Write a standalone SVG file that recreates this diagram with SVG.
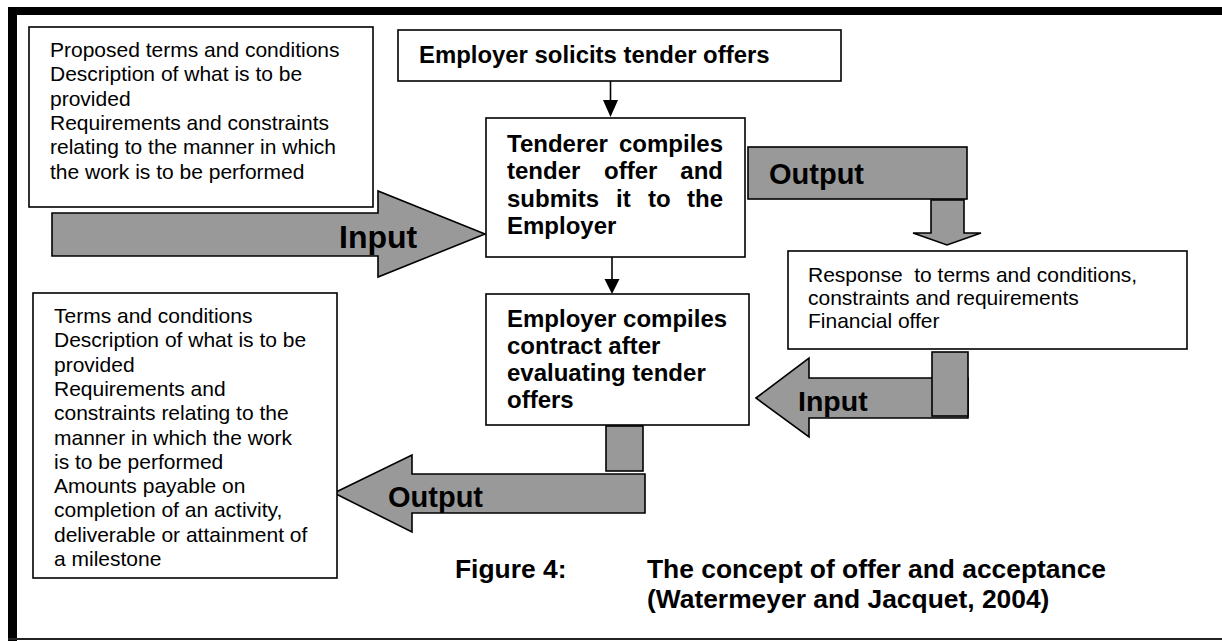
<svg xmlns="http://www.w3.org/2000/svg" width="1222" height="641" viewBox="0 0 1222 641">
  <style>
    .box { fill: #ffffff; stroke: #000000; stroke-width: 1.6; }
    .block { fill: #999999; stroke: #000000; stroke-width: 1.6; stroke-linejoin: miter; }
    .body { font-family: "Liberation Sans", Arial, sans-serif; font-size: 21px; fill: #000000; }
    .bold { font-family: "Liberation Sans", Arial, sans-serif; font-size: 24px; font-weight: bold; fill: #000000; }
    .tag { font-family: "Liberation Sans", Arial, sans-serif; font-size: 29px; font-weight: bold; fill: #000000; }
    .cap { font-family: "Liberation Sans", Arial, sans-serif; font-size: 26.4px; font-weight: bold; fill: #000000; }
    .link { stroke: #000000; stroke-width: 1.6; fill: none; }
  </style>

  <rect x="0" y="0" width="1222" height="641" fill="#ffffff"/>

  <!-- page frame -->
  <g id="frame">
    <rect x="8" y="7" width="1214" height="8" fill="#000000"/>
    <rect x="8" y="7" width="9" height="634" fill="#000000"/>
    <rect x="8" y="638" width="1214" height="2" fill="#222222"/>
  </g>

  <!-- block arrows and links -->
  <g id="connectors">
    <line class="link" x1="610.5" y1="81" x2="610.5" y2="100"/>
    <polygon points="603,100 618,100 610.5,117" fill="#000000"/>
    <line class="link" x1="612" y1="257" x2="612" y2="279"/>
    <polygon points="604.5,279 619.5,279 612,294" fill="#000000"/>

    <g id="input-left">
      <polygon class="block" points="52,213 378,213 378,191 485,234 378,277 378,256 52,256"/>
      <text class="tag" x="339" y="248" style="font-size:32px">Input</text>
    </g>

    <g id="output-top">
      <rect class="block" x="748" y="147" width="219" height="52"/>
      <text class="tag" x="769" y="184">Output</text>
      <polygon class="block" points="931,200 964,200 964,233 981,233 947,245 913,233 931,233"/>
    </g>

    <g id="input-right">
      <polygon class="block" points="756,398 809,358 809,378 968,378 968,418 809,418 809,437"/>
      <rect class="block" x="932" y="352" width="36" height="64"/>
      <text class="tag" x="798" y="411" style="font-size:28.5px">Input</text>
    </g>

    <g id="output-bottom">
      <rect class="block" x="606" y="426" width="37" height="45"/>
      <polygon class="block" points="334,493 412,455 412,474 645,474 645,513 412,513 412,532"/>
      <text class="tag" x="388" y="507">Output</text>
    </g>
  </g>

  <g id="terms-proposed">
    <rect class="box" x="29" y="27" width="344" height="180"/>
    <text class="body">
      <tspan x="50" y="57">Proposed terms and conditions</tspan>
      <tspan x="50" y="81.3">Description of what is to be</tspan>
      <tspan x="50" y="105.6">provided</tspan>
      <tspan x="50" y="129.9">Requirements and constraints</tspan>
      <tspan x="50" y="154.2">relating to the manner in which</tspan>
      <tspan x="50" y="178.5">the work is to be performed</tspan>
    </text>
  </g>

  <g id="solicit">
    <rect class="box" x="398" y="30" width="443" height="51"/>
    <text class="bold" x="419" y="63" style="font-size:23.9px">Employer solicits tender offers</text>
  </g>

  <g id="tenderer">
    <rect class="box" x="486" y="118" width="259" height="139"/>
    <g class="bold">
      <text x="507" y="152">Tenderer</text>
      <text x="723" y="152" text-anchor="end">compiles</text>
      <text x="507" y="179">tender</text>
      <text x="604" y="179">offer</text>
      <text x="723" y="179" text-anchor="end">and</text>
      <text x="507" y="207">submits</text>
      <text x="616" y="207">it</text>
      <text x="648" y="207">to</text>
      <text x="723" y="207" text-anchor="end">the</text>
      <text x="507" y="234">Employer</text>
    </g>
  </g>

  <g id="response">
    <rect class="box" x="788" y="251" width="399" height="98"/>
    <text class="body" xml:space="preserve"><tspan x="808" y="282">Response  to terms and conditions,</tspan><tspan x="808" y="305">constraints and requirements</tspan><tspan x="808" y="328">Financial offer</tspan></text>
  </g>

  <g id="contract">
    <rect class="box" x="486" y="294" width="263" height="131"/>
    <text class="bold">
      <tspan x="507" y="327">Employer compiles</tspan>
      <tspan x="507" y="354">contract after</tspan>
      <tspan x="507" y="381">evaluating tender</tspan>
      <tspan x="507" y="408">offers</tspan>
    </text>
  </g>

  <g id="terms-final">
    <rect class="box" x="33" y="293" width="304" height="285"/>
    <text class="body">
      <tspan x="54" y="323">Terms and conditions</tspan>
      <tspan x="54" y="347.3">Description of what is to be</tspan>
      <tspan x="54" y="371.6">provided</tspan>
      <tspan x="54" y="395.9">Requirements and</tspan>
      <tspan x="54" y="420.2">constraints relating to the</tspan>
      <tspan x="54" y="444.5">manner in which the work</tspan>
      <tspan x="54" y="468.8">is to be performed</tspan>
      <tspan x="54" y="493.1">Amounts payable on</tspan>
      <tspan x="54" y="517.4">completion of an activity,</tspan>
      <tspan x="54" y="541.7">deliverable or attainment of</tspan>
      <tspan x="54" y="566">a milestone</tspan>
    </text>
  </g>

  <g id="caption">
    <text class="cap" x="455" y="578">Figure 4:</text>
    <text class="cap" x="647" y="578">The concept of offer and acceptance</text>
    <text class="cap" x="647" y="608">(Watermeyer and Jacquet, 2004)</text>
  </g>
</svg>
